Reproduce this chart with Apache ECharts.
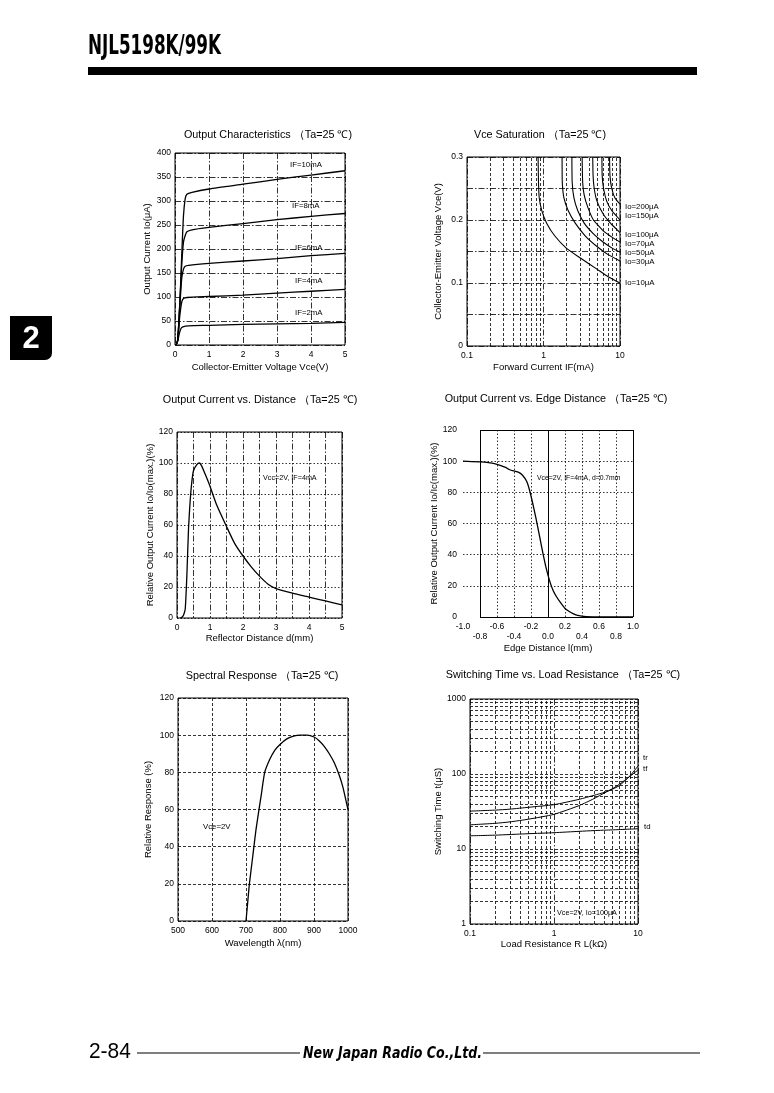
<!DOCTYPE html>
<html><head><meta charset="utf-8">
<script src="https://cdn.jsdelivr.net/npm/echarts/dist/echarts.min.js"></script>
<style>html,body{margin:0;padding:0;background:#fff}#c{width:774px;height:1093px}</style>
</head><body><div id="c"></div><script>
// ---------- DATA ----------
// Output Characteristics: Io (uA) vs Vce (V)
const ocLabels = ['IF=10mA','IF=8mA','IF=6mA','IF=4mA','IF=2mA'];
const ocIF10 = [[0.03,0],[0.08,10],[0.15,100],[0.2,190],[0.25,270],[0.3,305],[0.35,314],[0.5,318],[1,325],[2,335],[3,345],[4,354],[5,363]];
const ocIF8  = [[0.03,0],[0.08,10],[0.15,100],[0.2,170],[0.25,215],[0.3,228],[0.35,236],[0.5,240],[1,245],[2,253],[3,261],[4,268],[5,274]];
const ocIF6  = [[0.03,0],[0.08,10],[0.15,90],[0.2,140],[0.25,158],[0.3,164],[0.4,166],[1,170],[2,175],[3,180],[4,186],[5,191]];
const ocIF4  = [[0.03,0],[0.08,10],[0.14,60],[0.2,90],[0.25,97],[0.35,99],[1,101],[2,104],[3,108],[4,112],[5,116]];
const ocIF2  = [[0.03,0],[0.08,8],[0.13,25],[0.18,35],[0.23,38],[0.4,40],[1,41],[2,43],[3,44],[4,45],[5,47]];

// Vce Saturation: Vce (V) vs IF (mA)
const vsLabels = ['Io=200\u03bcA','Io=150\u03bcA','Io=100\u03bcA','Io=70\u03bcA','Io=50\u03bcA','Io=30\u03bcA','Io=10\u03bcA'];
const vsIo10  = [[0.85,0.3],[0.86,0.26],[0.88,0.235],[0.95,0.215],[1.1,0.195],[1.4,0.175],[2,0.155],[3,0.14],[5,0.122],[7,0.11],[10,0.1]];
const vsIo30  = [[1.75,0.3],[1.76,0.26],[1.85,0.235],[2.1,0.215],[2.6,0.195],[3.5,0.175],[5,0.158],[7,0.145],[10,0.135]];
const vsIo50  = [[2.35,0.3],[2.37,0.26],[2.5,0.235],[2.8,0.215],[3.4,0.195],[4.5,0.178],[6,0.165],[8,0.155],[10,0.149]];
const vsIo70  = [[3.2,0.3],[3.25,0.26],[3.4,0.24],[3.8,0.22],[4.5,0.2],[6,0.183],[8,0.172],[10,0.165]];
const vsIo100 = [[4.4,0.3],[4.45,0.27],[4.6,0.25],[5,0.23],[6,0.21],[7.5,0.195],[10,0.18]];
const vsIo150 = [[5.8,0.3],[5.85,0.27],[6.1,0.25],[6.7,0.23],[7.8,0.215],[10,0.2]];
const vsIo200 = [[7.3,0.3],[7.4,0.27],[7.8,0.25],[8.6,0.235],[10,0.225]];

// Output Current vs Distance: % vs d (mm)
const odCurve = [[0.1,0],[0.15,0.5],[0.2,2],[0.25,6],[0.3,28],[0.35,58],[0.4,76],[0.45,88],[0.5,95],[0.6,99],[0.68,100],[0.75,98],[0.85,93],[1.0,85],[1.2,73],[1.5,59],[1.75,48],[2,40],[2.25,33],[2.5,27],[2.75,22],[3,19],[3.5,16],[4,13.5],[4.5,11],[5,8.5]];

// Output Current vs Edge Distance: % vs l (mm)
const edCurve = [[-1,100],[-0.8,99.5],[-0.7,99],[-0.6,98],[-0.5,96],[-0.45,94.5],[-0.35,93],[-0.3,91],[-0.25,87],[-0.22,82],[-0.18,73],[-0.14,63],[-0.1,52],[-0.06,41],[-0.02,31],[0.02,23],[0.06,17],[0.1,13],[0.15,9],[0.2,5.5],[0.25,3.5],[0.3,2],[0.35,1],[0.45,0.3],[0.6,0],[1,0]];

// Spectral Response: % vs wavelength (nm)
const spCurve = [[700,0],[705,10],[710,20],[720,35],[730,50],[745,68],[755,80],[770,87],[785,92],[800,95],[820,98],[840,99.5],[860,100],[880,100],[900,99],[915,97],[930,94],[945,90],[960,85],[975,78],[985,72],[995,64],[1000,60]];

// Switching Time vs Load Resistance: us vs kOhm
const swTr = [[0.1,32],[0.2,33],[0.3,34],[0.5,36],[1,39],[2,46],[3,52],[4,57],[5,63],[6,70],[8,94],[10,128]];
const swTf = [[0.1,21],[0.2,22],[0.3,23],[0.5,25],[1,29],[2,38],[3,47],[4,56],[5,64],[6,73],[8,93],[10,113]];
const swTd = [[0.1,15],[0.2,15.3],[0.3,15.6],[0.5,16],[1,16.5],[2,17.2],[3,17.6],[5,18],[10,18.6]];

// Log grid helper values
const logMinor01to10 = [0.2,0.3,0.4,0.5,0.6,0.7,0.8,0.9,2,3,4,5,6,7,8,9];
const logMinor1to1000 = [2,3,4,5,6,7,8,9,20,30,40,50,60,70,80,90,200,300,400,500,600,700,800,900];

// ---------- STYLE ----------
const FF = 'Liberation Sans, Arial, sans-serif';
const lbl = {color:'#000', fontSize:8.5, fontFamily:FF};
const nameStyle = {color:'#000', fontSize:9.5, fontFamily:FF};
const DASH = [3,2], DOT=[1.5,2], DASHDOT=[6,2,1.5,2];
function split(t){return {show:true, lineStyle:{color:'#000', width:0.8, type:t}};}
function line(data, xi, w){return {type:'line', data, xAxisIndex:xi, yAxisIndex:xi, showSymbol:false, symbol:'none', smooth:0.2, animation:false, silent:true,
  lineStyle:{color:'#000', width:w||1.3}};}
function gridMark(xs, ys, t, extra){
  return {silent:true, symbol:['none','none'], label:{show:false}, animation:false,
    lineStyle:{color:'#000', width:0.8, type:t}, emphasis:{disabled:true},
    data: xs.map(v=>({xAxis:v})).concat(ys.map(v=>({yAxis:v}))).concat(extra||[])};
}
function xAx(gi, o){return Object.assign({gridIndex:gi, type:'value', nameLocation:'middle', nameTextStyle:nameStyle,
  axisLine:{show:false}, axisTick:{show:false}, axisLabel:Object.assign({margin:5}, lbl)}, o);}
function yAx(gi, o){return Object.assign({gridIndex:gi, type:'value', nameLocation:'middle', nameRotate:90, nameTextStyle:nameStyle,
  axisLine:{show:false}, axisTick:{show:false}, axisLabel:Object.assign({margin:4}, lbl)}, o);}

const grids = [
  {left:175, top:153, width:170, height:192},
  {left:467, top:157, width:153, height:189},
  {left:177, top:432, width:165, height:186},
  {left:463, top:430, width:170, height:187},
  {left:178, top:698, width:170, height:223},
  {left:470, top:699, width:168, height:225}
].map((g,i)=>Object.assign({show: i!==3, borderColor:'#000', borderWidth:1, backgroundColor:'transparent', containLabel:false, outerBoundsMode:'none'}, g));

const xAxes = [
  xAx(0,{min:0,max:5,interval:1, name:'Collector-Emitter Voltage Vce(V)', nameGap:17, splitLine:split(DASHDOT)}),
  xAx(1,{type:'log', logBase:10, min:0.1, max:10, name:'Forward Current IF(mA)', nameGap:16, splitLine:split(DASHDOT),
     axisLabel:Object.assign({margin:5, formatter:v=>String(v)}, lbl)}),
  xAx(2,{min:0,max:5,interval:0.5, name:'Reflector Distance d(mm)', nameGap:15, splitLine:split(DASHDOT),
     axisLabel:Object.assign({margin:5, formatter:v=>Number.isInteger(v)?String(v):''}, lbl)}),
  xAx(3,{min:-1,max:1,interval:0.2, name:'Edge Distance l(mm)', nameGap:24, splitLine:{show:false},
     axisLabel:Object.assign({margin:5, lineHeight:10, formatter:(v,i)=>{const s=Math.abs(v)<1e-9?'0.0':v.toFixed(1); return i%2===0? s : '\n'+s;}}, lbl)}),
  xAx(4,{min:500,max:1000,interval:100, name:'Wavelength \u03bb(nm)', nameGap:17, splitLine:split(DASH),
     axisLabel:Object.assign({margin:5, formatter:v=>String(v)}, lbl)}),
  xAx(5,{type:'log', logBase:10, min:0.1, max:10, name:'Load Resistance R L(k\u03a9)', nameGap:14, splitLine:split(DASHDOT),
     axisLabel:Object.assign({margin:5, formatter:v=>String(v)}, lbl)})
];
const yAxes = [
  yAx(0,{min:0,max:400,interval:50, name:'Output Current Io(\u03bcA)', nameGap:23, splitLine:split(DASHDOT)}),
  yAx(1,{min:0,max:0.3,interval:0.05, name:'Collector-Emitter Voltage Vce(V)', nameGap:24, splitLine:split(DASHDOT),
     axisLabel:Object.assign({margin:4, formatter:v=>{if(Math.abs(v)<1e-9)return '0'; const r=Math.round(v*10); return Math.abs(v*10-r)<1e-6? (r/10).toFixed(1):'';}}, lbl)}),
  yAx(2,{min:0,max:120,interval:20, name:'Relative Output Current Io/Io(max.)(%)', nameGap:21, splitLine:split(DOT)}),
  yAx(3,{min:0,max:120,interval:20, name:'Relative Output Current Io/Ic(max.)(%)', nameGap:21, splitLine:{show:false},
     axisLabel:Object.assign({margin:6}, lbl)}),
  yAx(4,{min:0,max:120,interval:20, name:'Relative Response (%)', nameGap:25, splitLine:split(DASH)}),
  yAx(5,{type:'log', logBase:10, min:1, max:1000, name:'Switching Time t(\u03bcS)', nameGap:27, splitLine:split(DASH),
     axisLabel:Object.assign({margin:4, formatter:v=>String(v)}, lbl)})
];

const series = [];
// chart 1
[ocIF10, ocIF8, ocIF6, ocIF4, ocIF2].forEach(d=>series.push(line(d,0)));
// chart 2
const vs = [vsIo200, vsIo150, vsIo100, vsIo70, vsIo50, vsIo30, vsIo10];
vs.forEach((d,i)=>{const s=line(d,1,1.1); s.smooth=0.15; if(i===0) s.markLine=gridMark(logMinor01to10, [], DASH); series.push(s);});
// chart 3
series.push(line(odCurve,2));
// chart 4
const s4 = line(edCurve,3);
s4.markLine = gridMark([-0.6,-0.4,-0.2,0.2,0.4,0.6,0.8],[20,40,60,80,100], DOT, [
  {xAxis:-0.8, lineStyle:{type:'solid', width:1}},
  {xAxis:0, lineStyle:{type:'solid', width:1}},
  {xAxis:1, lineStyle:{type:'solid', width:1}},
  [{coord:[-0.8,0], lineStyle:{type:'solid', width:1}},{coord:[1,0]}],
  [{coord:[-0.8,120], lineStyle:{type:'solid', width:1}},{coord:[1,120]}]
]);
series.push(s4);
// chart 5
series.push(line(spCurve,4));
// chart 6
const s6a = line(swTr,5,1); s6a.markLine = gridMark(logMinor01to10, logMinor1to1000, DASH);
series.push(s6a, line(swTf,5,1), line(swTd,5,1));

// ---------- TEXT / DECORATION ----------
function fontStr(o){return (o.i||'')+' '+(o.w||'')+' '+(o.fs||8)+'px '+(o.ff||FF);}
function TX(x,y,text,o){o=o||{}; return {type:'text', x, y, silent:true, scaleX:o.sx||1, style:{text, fill:o.fill||'#000',
  font:fontStr(o), align:o.a||'left', textAlign:o.a||'left', verticalAlign:'middle', textVerticalAlign:'middle'}};}
function L(x1,y1,x2,y2,w){return {type:'line', silent:true, shape:{x1,y1,x2,y2}, style:{stroke:'#000', lineWidth:w||1}};}

const titles = [
  [268,135,'Output Characteristics \uff08Ta=25 \u2103)'],
  [540,135,'Vce Saturation \uff08Ta=25 \u2103)'],
  [260,400,'Output Current vs. Distance \uff08Ta=25 \u2103)'],
  [556,399,'Output Current vs. Edge Distance \uff08Ta=25 \u2103)'],
  [262,676,'Spectral Response \uff08Ta=25 \u2103)'],
  [563,675,'Switching Time vs. Load Resistance \uff08Ta=25 \u2103)']
];
const ocLblPos = [[290,165],[292,206],[295,248],[295,281],[295,313]];
const vsLblY = [207,216,235,244,253,262,283];

const graphic = [];
graphic.push(TX(88,47,'NJL5198K/99K',{fs:27, w:'bold', ff:'Liberation Sans Narrow, DejaVu Sans Condensed, sans-serif', sx:0.69}));
graphic.push({type:'rect', silent:true, shape:{x:88,y:67,width:609,height:8}, style:{fill:'#000'}});
graphic.push({type:'rect', silent:true, shape:{x:10,y:316,width:42,height:44,r:[0,0,7,0]}, style:{fill:'#000'}});
graphic.push(TX(31,339,'2',{fs:31, w:'bold', fill:'#fff', a:'center', ff:'Liberation Sans, Arial, sans-serif'}));
titles.forEach(t=>graphic.push(TX(t[0],t[1],t[2],{fs:10.8, a:'center'})));
ocLabels.forEach((s,i)=>graphic.push(TX(ocLblPos[i][0],ocLblPos[i][1],s,{fs:7.8})));
vsLabels.forEach((s,i)=>graphic.push(TX(625,vsLblY[i],s,{fs:7.8})));
graphic.push(TX(263,478,'Vcc=2V, IF=4mA',{fs:7.2}));
graphic.push(TX(537,478,'Vce=2V, IF=4mA, d=0.7mm',{fs:6.8}));
graphic.push(TX(203,827,'Vce=2V',{fs:7.8}));
graphic.push(TX(643,758,'tr',{fs:7.8}));
graphic.push(TX(643,769,'tf',{fs:7.8}));
graphic.push(TX(644,827,'td',{fs:7.8}));
graphic.push(TX(557,913,'Vce=2V, Io=100\u03bcA',{fs:7.2}));
// footer
graphic.push(TX(89,1052,'2-84',{fs:22, ff:'Liberation Sans, Arial, sans-serif', sx:0.95}));
graphic.push(L(137,1053,300,1053,1.2));
graphic.push(TX(303,1054,'New Japan Radio Co.,Ltd.',{fs:15, w:'bold', i:'italic', ff:'DejaVu Sans, sans-serif', sx:0.84}));
graphic.push(L(483,1053,700,1053,1.2));

const chart = echarts.init(document.getElementById('c'), null, {renderer:'canvas'});
chart.setOption({
  animation:false,
  backgroundColor:'#fff',
  grid: grids,
  xAxis: xAxes,
  yAxis: yAxes,
  series: series,
  graphic: graphic
});
</script></body></html>
